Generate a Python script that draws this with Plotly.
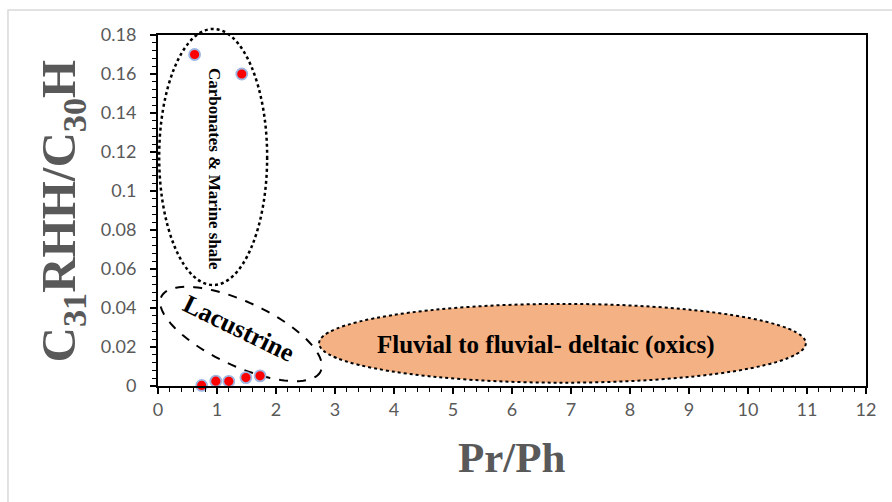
import numpy as np
import plotly.graph_objects as go

# Pr/Ph vs C31RHH/C30H measurements
pr_ph = [0.62, 1.42, 0.74, 0.98, 1.20, 1.49, 1.73]
rhh_ratio = [0.170, 0.160, 0.0003, 0.0025, 0.0024, 0.0043, 0.0052]

x_ticks = list(range(0, 13))
x_tick_labels = [str(v) for v in x_ticks]
y_ticks = [0, 0.02, 0.04, 0.06, 0.08, 0.1, 0.12, 0.14, 0.16, 0.18]
y_tick_labels = ["0", "0.02", "0.04", "0.06", "0.08", "0.1", "0.12", "0.14", "0.16", "0.18"]

X_RANGE = (0, 12)
Y_RANGE = (0, 0.18)

SERIF = "Liberation Serif, Times New Roman, serif"
GRAY = "#595959"


def xdom(v):
    return (v - X_RANGE[0]) / (X_RANGE[1] - X_RANGE[0])


def ydom(v):
    return (v - Y_RANGE[0]) / (Y_RANGE[1] - Y_RANGE[0])


fig = go.Figure()

fig.add_trace(go.Scatter(
    x=pr_ph, y=rhh_ratio, mode="markers",
    marker=dict(size=11, color="#FF0000", line=dict(color="#9DB5E0", width=1.8)),
    cliponaxis=False, showlegend=False,
))

shapes = []

# Carbonates & marine shale field (allowed to spill above the plot frame)
shapes.append(dict(
    type="circle", xref="x domain", yref="y domain",
    x0=xdom(0.02), x1=xdom(1.85), y0=ydom(0.0518), y1=ydom(0.1831),
    line=dict(color="black", width=2.5, dash="dot"), layer="above",
))

# Fluvial / fluvial-deltaic field
shapes.append(dict(
    type="circle", xref="x", yref="y",
    x0=2.73, x1=10.98, y0=0.0017, y1=0.0421,
    fillcolor="#F4B183", line=dict(color="black", width=2, dash="dot"),
    layer="below",
))

# Lacustrine field: tilted ellipse from its centre and two semi-axis vectors
cx, cy = 1.407, 0.02667
u = np.array([1.351, -0.01908])
v = np.array([-0.2288, -0.01487])
t = np.linspace(0, 2 * np.pi, 121)
ex = cx + u[0] * np.cos(t) + v[0] * np.sin(t)
ey = cy + u[1] * np.cos(t) + v[1] * np.sin(t)
path = "M " + " L ".join(f"{a:.5f},{b:.6f}" for a, b in zip(ex, ey)) + " Z"
shapes.append(dict(
    type="path", xref="x", yref="y", path=path,
    line=dict(color="black", width=2, dash="dash"), layer="below",
))

# Outer chart-area frame
shapes.append(dict(
    type="rect", xref="paper", yref="paper",
    x0=-0.2119, x1=2, y0=-2, y1=1.0712,
    line=dict(color="#D9D9D9", width=1.5), fillcolor="rgba(0,0,0,0)",
))

annotations = [
    dict(x=0.95, y=0.1113, xref="x", yref="y", text="<b>Carbonates & Marine shale</b>",
         textangle=90, showarrow=False, font=dict(family=SERIF, size=17, color="black")),
    dict(x=1.37, y=0.0297, xref="x", yref="y", text="<b>Lacustrine</b>",
         textangle=26, showarrow=False, font=dict(family=SERIF, size=26, color="black")),
    dict(x=6.57, y=0.021, xref="x", yref="y", text="<b>Fluvial to fluvial- deltaic (oxics)</b>",
         showarrow=False, font=dict(family=SERIF, size=25, color="black")),
    dict(x=0.5, y=-0.205, xref="paper", yref="paper", text="<b>Pr/Ph</b>",
         showarrow=False, xanchor="center", yanchor="middle",
         font=dict(family=SERIF, size=43, color=GRAY)),
    dict(x=-0.1356, y=0.5, xref="paper", yref="paper",
         text="<b>C<sub>31</sub>RHH/C<sub>30</sub>H</b>", textangle=-90,
         showarrow=False, xanchor="center", yanchor="middle",
         font=dict(family=SERIF, size=49, color=GRAY)),
]

axis_common = dict(
    showgrid=False, zeroline=False, showline=True, linecolor="black", linewidth=2,
    mirror=True, ticks="outside", tickcolor="black", tickwidth=1.5, ticklen=6,
    tickfont=dict(family="Lato, Calibri, sans-serif", size=18, color=GRAY),
)

fig.update_layout(
    width=892, height=502,
    margin=dict(l=158, r=26, t=35, b=116),
    paper_bgcolor="white", plot_bgcolor="white",
    xaxis=dict(range=list(X_RANGE), tickmode="array", tickvals=x_ticks, ticktext=x_tick_labels,
               minor=dict(dtick=0.2, ticks="outside", ticklen=4, tickcolor="black", tickwidth=1.2),
               **axis_common),
    yaxis=dict(range=list(Y_RANGE), tickmode="array", tickvals=y_ticks, ticktext=y_tick_labels,
               minor=dict(dtick=0.004, ticks="outside", ticklen=4, tickcolor="black", tickwidth=1.2),
               ticklabelstandoff=10, **axis_common),
    shapes=shapes, annotations=annotations,
)

fig.write_html("out.html")
